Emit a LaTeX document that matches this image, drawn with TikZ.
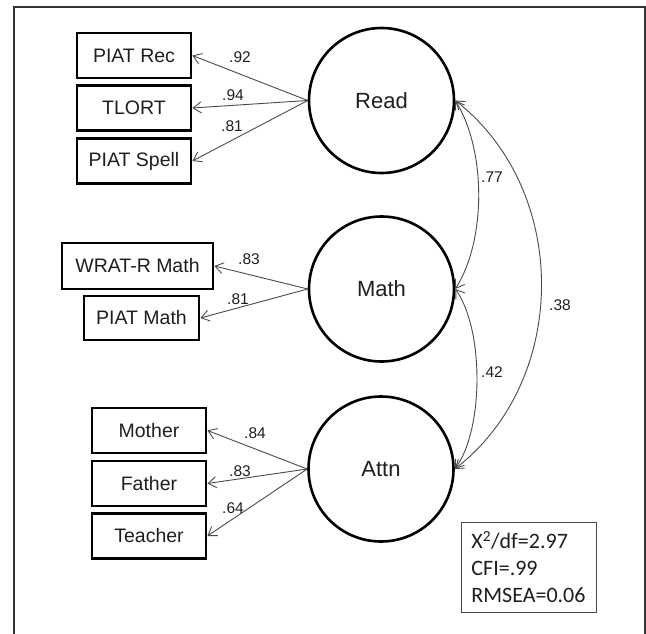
\documentclass[tikz,border=0pt]{standalone}
\usepackage{fontspec}
\setmainfont{Liberation Sans}
\newfontfamily\fitfont{Carlito}
\usetikzlibrary{arrows.meta,calc}
\definecolor{ln}{HTML}{4A4A4A}
\definecolor{tx}{HTML}{1E1E1E}
\tikzset{
  obs/.style={draw=black, line width=2.8pt, rectangle, minimum height=45pt, inner sep=0pt, text=tx, font=\fontsize{19.5}{22}\selectfont},
  lat/.style={draw=black, line width=2.6pt, circle, minimum size=145pt, inner sep=0pt, text=tx, font=\fontsize{22}{26}\selectfont},
  load/.style={draw=ln, line width=0.9pt, -{Straight Barb[length=8pt,width=11pt]}},
  cov/.style={draw=ln, line width=0.9pt, {Straight Barb[length=8pt,width=11pt]}-{Straight Barb[length=8pt,width=11pt]}},
  lbl/.style={text=tx, inner sep=0pt, font=\fontsize{15.5}{18}\selectfont},
}
\begin{document}
\begin{tikzpicture}[x=1pt,y=-1pt]
\useasboundingbox (0,0) rectangle (646,634);
% outer frame
\draw[line width=1.6pt, color=black!80] (14,640) -- (14,7) -- (645,7) -- (645,640);
% latent variables
\node[lat] (read) at (381.5,100.5) {Read};
\node[lat] (math) at (381.5,289) {Math};
\node[lat] (attn) at (381,469) {Attn};
% observed variables
\node[obs, minimum width=114pt] (prec) at (134,55.5) {PIAT Rec};
\node[obs, minimum width=114pt] (tlort) at (134,108) {TLORT};
\node[obs, minimum width=114pt] (pspell) at (134,161) {PIAT Spell};
\node[obs, minimum width=151pt, minimum height=46pt] (wrat) at (137.5,266) {WRAT-R Math};
\node[obs, minimum width=115pt, minimum height=44pt] (pmath) at (141.5,318) {PIAT Math};
\node[obs, minimum width=114pt] (mother) at (149,430.5) {Mother};
\node[obs, minimum width=114pt] (father) at (149,483.5) {Father};
\node[obs, minimum width=114pt] (teacher) at (149,536) {Teacher};
% loadings
\draw[load] (read.west) -- (prec.east);
\draw[load] (read.west) -- (tlort.east);
\draw[load] (read.west) -- (pspell.east);
\draw[load] (math.west) -- (wrat.east);
\draw[load] (math.west) -- (pmath.east);
\draw[load] (attn.west) -- (mother.east);
\draw[load] (attn.west) -- (father.east);
\draw[load] (attn.west) -- (teacher.east);
\node[lbl] (l1) at (240,57) {.92};
\node[lbl] (l2) at (233,95) {.94};
\node[lbl] (l3) at (232,126) {.81};
\node[lbl] (l4) at (249,259) {.83};
\node[lbl] (l5) at (238,299) {.81};
\node[lbl] (l6) at (255,433) {.84};
\node[lbl] (l7) at (240,471) {.83};
\node[lbl] (l8) at (233,508) {.64};
% covariances
\draw[cov] (read.east) .. controls ($(read.east)+(31,50)$) and ($(math.east)+(31,-49)$) .. (math.east);
\draw[cov] (math.east) .. controls ($(math.east)+(29,41)$) and ($(attn.east)+(29,-39)$) .. (attn.east);
\draw[cov] (read.east) .. controls ($(read.east)+(115,90)$) and ($(attn.east)+(115,-89)$) .. (attn.east);
\node[lbl] (c1) at (492,177) {.77};
\node[lbl] (c2) at (492,372) {.42};
\node[lbl] (c3) at (560,305) {.38};
% fit box
\node[draw=ln, line width=0.9pt, minimum width=135pt, minimum height=90pt, inner sep=0pt, align=left, text=tx, font=\fitfont\fontsize{22}{27}\selectfont] (fit) at (528.5,567) {X\textsuperscript{2}/df=2.97\\CFI=.99\\RMSEA=0.06};
\end{tikzpicture}
\end{document}
